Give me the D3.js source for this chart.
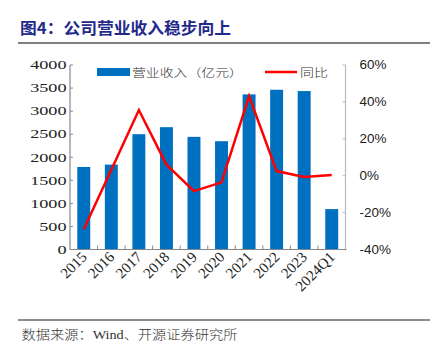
<!DOCTYPE html>
<html>
<head>
<meta charset="utf-8">
<script src="https://cdn.jsdelivr.net/npm/d3@7"></script>
<style>
html,body{margin:0;padding:0;background:#fff;}
svg{display:block;}
</style>
</head>
<body>
<svg id="chart" width="432" height="350"></svg>
<script>
const categories = ["2015","2016","2017","2018","2019","2020","2021","2022","2023","2024Q1"];
const revenue = [1789, 1841, 2500, 2652, 2442, 2348, 3363, 3463, 3435, 876];
const yoy = [-29.0, 3.2, 35.6, 6.0, -8.4, -3.6, 43.2, 2.5, -0.7, 0.4];
const leftTicks = [0, 500, 1000, 1500, 2000, 2500, 3000, 3500, 4000];
const rightTicks = [-40, -20, 0, 20, 40, 60];
const titleText = "图4：公司营业收入稳步向上";
const sourceText = "数据来源：Wind、开源证券研究所";
const legendBar = "营业收入（亿元）";
const legendLine = "同比";

const svg = d3.select("#chart");
const L = 70, R = 345.5, T = 65, B = 249.5;

const x = d3.scaleBand().domain(categories).range([L, R]).paddingInner(0.53).paddingOuter(0.265);
const yL = d3.scaleLinear().domain([0, 4000]).range([B, T]);
const yR = d3.scaleLinear().domain([-40, 60]).range([B, T]);

// Title
svg.append("text").attr("x", 20).attr("y", 34)
  .attr("font-family", "'Noto Sans CJK SC', sans-serif").attr("font-weight", "bold")
  .attr("font-size", 16).attr("fill", "#1f2a8a")
  .attr("textLength", 211).attr("lengthAdjust", "spacingAndGlyphs")
  .text(titleText);
svg.append("line").attr("x1", 18).attr("x2", 430).attr("y1", 43).attr("y2", 43)
  .attr("stroke", "#555").attr("stroke-width", 1.3);

// Bars
svg.append("g").selectAll("rect").data(revenue).join("rect")
  .attr("x", (d, i) => x(categories[i]))
  .attr("width", x.bandwidth())
  .attr("y", d => yL(d))
  .attr("height", d => B - yL(d))
  .attr("fill", "#0070C0");

// Left axis
const gL = svg.append("g");
gL.append("line").attr("x1", L).attr("x2", L).attr("y1", T).attr("y2", B).attr("stroke", "#888").attr("stroke-width", 1.2);
leftTicks.forEach(t => {
  gL.append("line").attr("x1", L).attr("x2", L + 3).attr("y1", yL(t)).attr("y2", yL(t)).attr("stroke", "#888");
  gL.append("text").attr("transform", `translate(66.5,${yL(t) + 4.3}) scale(1.4,1)`)
    .attr("text-anchor", "end").attr("font-family", "'Liberation Serif', serif")
    .attr("font-size", 13).attr("fill", "#222").text(t);
});

// Right axis
const gR = svg.append("g");
gR.append("line").attr("x1", R).attr("x2", R).attr("y1", T).attr("y2", B).attr("stroke", "#bbb").attr("stroke-width", 1.2);
rightTicks.forEach(t => {
  gR.append("line").attr("x1", R - 3).attr("x2", R).attr("y1", yR(t)).attr("y2", yR(t)).attr("stroke", "#bbb");
  gR.append("text").attr("transform", `translate(359.5,${yR(t) + 4.3}) scale(1.12,1)`)
    .attr("text-anchor", "start").attr("font-family", "'Liberation Sans', sans-serif")
    .attr("font-size", 12).attr("fill", "#222").text(t + "%");
});

// Bottom axis
const gB = svg.append("g");
gB.append("line").attr("x1", L).attr("x2", R + 1).attr("y1", B).attr("y2", B).attr("stroke", "#888").attr("stroke-width", 1.2);
categories.forEach((c, i) => {
  if (i > 0) {
    const xb = x(c) - x.step() * x.paddingInner() / 2;
    gB.append("line").attr("x1", xb).attr("x2", xb).attr("y1", B).attr("y2", B - 4).attr("stroke", "#888");
  }
  const cx = x(c) + x.bandwidth() / 2 + 4;
  gB.append("text").attr("transform", `translate(${cx},258) rotate(-45)`)
    .attr("text-anchor", "end").attr("font-family", "'Liberation Serif', serif")
    .attr("font-size", 15).attr("fill", "#222").text(c);
});

// Line
const line = d3.line().x((d, i) => x(categories[i]) + x.bandwidth() / 2).y(d => yR(d));
svg.append("path").datum(yoy).attr("d", line).attr("fill", "none")
  .attr("stroke", "#FF0000").attr("stroke-width", 2.5).attr("stroke-linejoin", "miter");

// Legend
svg.append("rect").attr("x", 97).attr("y", 68).attr("width", 33).attr("height", 8).attr("fill", "#0070C0");
svg.append("text").attr("x", 132).attr("y", 76.5)
  .attr("font-family", "'Noto Sans CJK SC', sans-serif").attr("font-weight", 300).attr("font-size", 11).attr("fill", "#333")
  .attr("textLength", 111).attr("lengthAdjust", "spacingAndGlyphs").text(legendBar);
svg.append("line").attr("x1", 265).attr("x2", 297).attr("y1", 72).attr("y2", 72)
  .attr("stroke", "#FF0000").attr("stroke-width", 2.5);
svg.append("text").attr("x", 300).attr("y", 76.5)
  .attr("font-family", "'Noto Sans CJK SC', sans-serif").attr("font-weight", 300).attr("font-size", 11).attr("fill", "#333")
  .attr("textLength", 28).attr("lengthAdjust", "spacingAndGlyphs").text(legendLine);

// Footer
svg.append("line").attr("x1", 18).attr("x2", 430).attr("y1", 320).attr("y2", 320)
  .attr("stroke", "#666").attr("stroke-width", 1.3);
svg.append("text").attr("x", 21.5).attr("y", 339)
  .attr("font-family", "'Liberation Serif', 'Noto Sans CJK SC', serif").attr("font-weight", 300).attr("font-size", 13).attr("fill", "#333")
  .attr("textLength", 216).attr("lengthAdjust", "spacingAndGlyphs").text(sourceText);
</script>
</body>
</html>
